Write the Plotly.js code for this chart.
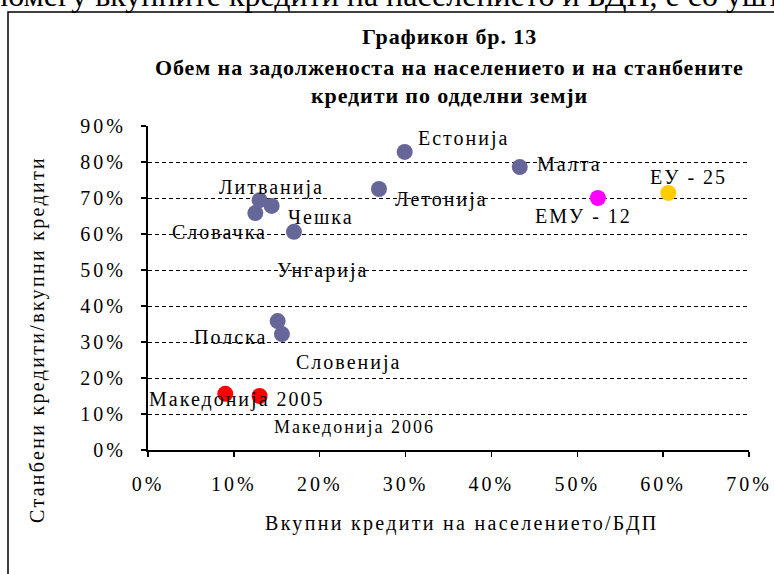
<!DOCTYPE html>
<html>
<head>
<meta charset="utf-8">
<script src="https://cdn.plot.ly/plotly-3.0.1.min.js"></script>
<style>html,body{margin:0;padding:0;background:#fff;}#chart{width:774px;height:574px;}</style>
</head>
<body>
<div id="chart"></div>
<script>
// Data (fractions)
const countries = ["Естонија","Малта","Летонија","Литванија","Чешка","Словачка","Унгарија","Полска","Словенија"];
const countryX  = [0.299, 0.433, 0.269, 0.130, 0.144, 0.125, 0.170, 0.151, 0.156];
const countryY  = [0.828, 0.786, 0.725, 0.694, 0.678, 0.658, 0.606, 0.358, 0.322];

const mkNames = ["Македонија 2005","Македонија 2006"];
const mkX = [0.090, 0.130];
const mkY = [0.156, 0.150];

const emuName = "ЕМУ - 12";
const emuX = [0.524];
const emuY = [0.700];

const euName = "ЕУ - 25";
const euX = [0.606];
const euY = [0.714];

const xTickVals = [0,0.1,0.2,0.3,0.4,0.5,0.6,0.7];
const yTickVals = [0,0.1,0.2,0.3,0.4,0.5,0.6,0.7,0.8,0.9];

// Label placements (data coords, as dragged in the original)
const labelText = ["Естонија","Малта","Летонија","Литванија","Чешка","Словачка","Унгарија","Полска","Словенија","Македонија 2005","Македонија 2006","ЕМУ - 12","ЕУ - 25"];
const labelX = [0.368, 0.491, 0.342, 0.144, 0.201, 0.083, 0.203, 0.096, 0.234, 0.104, 0.241, 0.507, 0.630];
const labelY = [0.864, 0.795, 0.697, 0.728, 0.647, 0.606, 0.500, 0.314, 0.244, 0.139, 0.064, 0.650, 0.758];
const labelSize = [20,20,20,20,20,20,20,20,20,20,18,20,20];

const serif = "'Liberation Serif', 'Times New Roman', serif";
const sp = (t, s) => "<span style='letter-spacing:" + s + "px'>" + t + "</span>";

const traces = [
  {x: countryX, y: countryY, text: countries, type: "scatter", mode: "markers",
   marker: {color: "#666699", size: 16}, hoverinfo: "text"},
  {x: mkX, y: mkY, text: mkNames, type: "scatter", mode: "markers",
   marker: {color: "#FF0000", size: 16}, hoverinfo: "text"},
  {x: emuX, y: emuY, text: [emuName], type: "scatter", mode: "markers",
   marker: {color: "#FF00FF", size: 16}, hoverinfo: "text"},
  {x: euX, y: euY, text: [euName], type: "scatter", mode: "markers",
   marker: {color: "#FFCC00", size: 16}, hoverinfo: "text"}
];

const annotations = labelText.map((t, i) => ({
  x: labelX[i], y: labelY[i], xref: "x", yref: "y", text: sp(t, 2), showarrow: false,
  xanchor: "center", yanchor: "middle",
  font: {family: serif, size: labelSize[i], color: "#000"}
}));

// Title lines
const titleLines = ["Графикон бр. 13", "Обем на задолженоста на населението и на станбените", "кредити по одделни земји"];
const titleY = [37, 67, 95];
titleLines.forEach((t, i) => {
  annotations.push({xref: "paper", yref: "paper", x: (449-148)/601, y: (450-titleY[i])/324,
    xanchor: "center", yanchor: "middle", showarrow: false, text: "<b>" + sp(t, 0.9) + "</b>",
    font: {family: serif, size: 22, color: "#000"}});
});
// Axis titles
annotations.push({xref: "paper", yref: "paper", x: (462-148)/601, y: (450-523)/324,
  xanchor: "center", yanchor: "middle", showarrow: false, text: sp("Вкупни кредити на населението/БДП", 2.3),
  font: {family: serif, size: 20, color: "#000"}});
annotations.push({xref: "paper", yref: "paper", x: (37-148)/601, y: (450-340)/324,
  xanchor: "center", yanchor: "middle", showarrow: false, textangle: -90, text: sp("Станбени кредити/вкупни кредити", 2.3),
  font: {family: serif, size: 20, color: "#000"}});
// Surrounding document text (cropped at top)
annotations.push({xref: "paper", yref: "paper", x: (-128-148)/601, y: (450-15)/324,
  xanchor: "left", yanchor: "bottom", showarrow: false,
  text: "односот помеѓу вкупните кредити на населението и БДП, е со уште",
  font: {family: serif, size: 32, color: "#000"}});

const pct = v => Math.round(v * 100) + "%";

const layout = {
  width: 774, height: 574,
  margin: {l: 148, r: 25, t: 126, b: 124},
  paper_bgcolor: "#fff", plot_bgcolor: "#fff",
  showlegend: false,
  xaxis: {range: [0, 0.7], tickvals: xTickVals, ticktext: xTickVals.map(v => sp(pct(v), 3)),
    showgrid: false, zeroline: false,
    showline: true, linecolor: "#000", linewidth: 2, ticks: "outside", ticklen: 5, tickcolor: "#000", tickwidth: 1.5,
    tickfont: {family: serif, size: 20, color: "#000"}, ticklabelstandoff: 10},
  yaxis: {range: [0, 0.9], tickvals: yTickVals, ticktext: yTickVals.map(v => sp(pct(v), 3)),
    showgrid: true, gridcolor: "#000", gridwidth: 1,
    griddash: "4px,3px", zeroline: false,
    showline: true, linecolor: "#000", linewidth: 2, ticks: "outside", ticklen: 5, tickcolor: "#000", tickwidth: 1.5,
    tickfont: {family: serif, size: 20, color: "#000"}, ticklabelstandoff: 11},
  annotations: annotations,
  shapes: [{type: "rect", xref: "paper", yref: "paper",
    x0: (8-148)/601, x1: (830-148)/601, y0: (450-650)/324, y1: (450-12)/324,
    line: {color: "#000", width: 1.5}, fillcolor: "rgba(0,0,0,0)", layer: "below"}]
};

Plotly.newPlot("chart", traces, layout, {displayModeBar: false, staticPlot: true});
</script>
</body>
</html>
